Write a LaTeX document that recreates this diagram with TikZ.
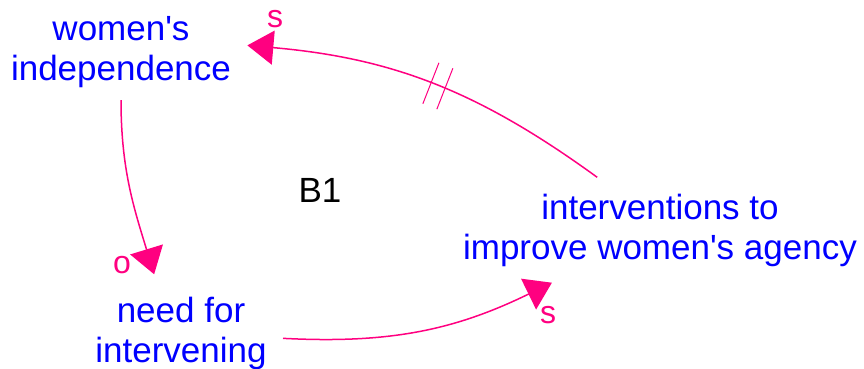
\documentclass[tikz,border=0pt]{standalone}
\usepackage{fontspec}
\setmainfont{Liberation Sans}[Ligatures=TeXOff]
\usepackage{xcolor}
\usetikzlibrary{arrows.meta,decorations.markings}
\definecolor{linkpink}{RGB}{255,0,128}
\definecolor{varblue}{RGB}{0,0,255}

\begin{document}
\begin{tikzpicture}[
x=0.5pt,
y=0.5pt,
every node/.style={font=\fontsize{17.5}{20}\selectfont},
var/.style={align=center,text=varblue,inner sep=8pt},
loopname/.style={text=black,inner sep=0pt},
polarity/.style={text=linkpink,inner sep=0pt,font=\fontsize{16}{18}\selectfont},
link/.style={color=linkpink,line width=0.75pt,-{Triangle[length=13pt,width=17pt]}},
delaymark/.style={postaction={decorate,decoration={markings,mark=at position 0.485 with {\draw[-,linkpink,line width=0.5pt] (-3.75pt,-11pt) -- (-3.75pt,11pt) (3.75pt,-11pt) -- (3.75pt,11pt);}}}}
]
\useasboundingbox (0,0) rectangle (864,369);
\node[var] (indep) at (121,317) {women's\\independence};
\node[var] (need) at (181,36) {need for\\intervening};
\node[var] (interv) at (660,139) {interventions to\\improve women's agency};
\node[loopname] (loopb) at (320,179) {B1};

\node[polarity] (polindep) at (275,350) {s};
\node[polarity] (polneed) at (122,104) {o};
\node[polarity] (polinterv) at (548,54) {s};

\draw[link] ([yshift=2pt]indep.south) to[out=-90,in=107] ([yshift=3pt]need.117);
\draw[link] (need.-3) to[out=-3,in=206] (interv.-154);
\draw[link,delaymark] (interv.140) to[out=144,in=-5] (indep.3);
\end{tikzpicture}
\end{document}
